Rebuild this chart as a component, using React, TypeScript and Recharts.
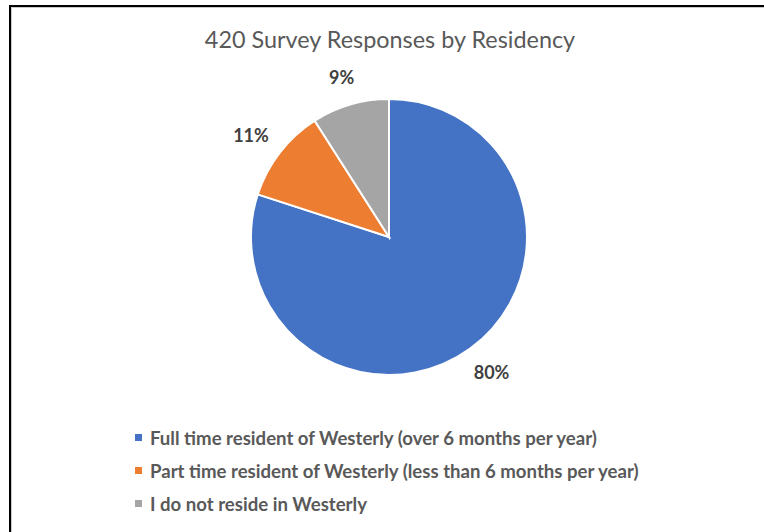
import { PieChart, Pie, Cell, Legend } from 'recharts';

const categories = [
  'Full time resident of Westerly (over 6 months per year)',
  'Part time resident of Westerly (less than 6 months per year)',
  'I do not reside in Westerly',
];
const responses = [336, 46, 38];
const COLORS = ['#4472C4', '#ED7D31', '#A5A5A5'];

const data = categories.map((name, i) => ({ name, value: responses[i] }));
const total = responses.reduce((a, b) => a + b, 0);

const FONT = 'Lato, "Open Sans", sans-serif';
const RADIAN = Math.PI / 180;

// labels sit just outside the slice, pushed out by half their box (like Excel "best fit")
const renderLabel = ({ cx, cy, midAngle, outerRadius, value }: any) => {
  const text = `${Math.round((value / total) * 100)}%`;
  const cos = Math.cos(-midAngle * RADIAN);
  const sin = Math.sin(-midAngle * RADIAN);
  const r = outerRadius + 20;
  const halfW = (text.length * 11) / 2;
  const x = cx + r * cos + cos * halfW;
  const y = cy + r * sin + sin * 9;
  return (
    <text
      x={x}
      y={y}
      fill="#404040"
      textAnchor="middle"
      dominantBaseline="central"
      style={{ fontFamily: FONT, fontWeight: 700, fontSize: 18 }}
    >
      {text}
    </text>
  );
};

const renderLegend = () => (
  <div style={{ fontFamily: FONT, fontWeight: 700, fontSize: 18.6, color: '#595959', whiteSpace: 'nowrap' }}>
    {categories.map((name, i) => (
      <div key={name} style={{ display: 'flex', alignItems: 'center', height: 33 }}>
        <span style={{ width: 7, height: 7, background: COLORS[i], marginRight: 8, display: 'inline-block' }} />
        <span>{name}</span>
      </div>
    ))}
  </div>
);

export default function App() {
  return (
    <div
      style={{
        position: 'fixed',
        left: 0,
        top: 0,
        width: 764,
        height: 532,
        background: '#fff',
        overflow: 'hidden',
      }}
    >
      {/* frame: only top and left edges are visible in the source */}
      <div style={{ position: 'absolute', left: 9, top: 5, width: 755, height: 2, background: '#000' }} />
      <div style={{ position: 'absolute', left: 9, top: 5, width: 2, height: 527, background: '#000' }} />
      <div style={{ position: 'absolute', left: 11, top: 7, width: 753, height: 1, background: '#c8c8c8' }} />
      <div style={{ position: 'absolute', left: 11, top: 7, width: 1, height: 525, background: '#c8c8c8' }} />
      <div
        style={{
          position: 'absolute',
          left: 0,
          top: 25,
          width: 780,
          textAlign: 'center',
          fontFamily: FONT,
          fontSize: 23.4,
          color: '#595959',
        }}
      >
        420 Survey Responses by Residency
      </div>
      <div style={{ position: 'absolute', left: 0, top: 0 }}>
        <PieChart width={764} height={532}>
          <Pie
            data={data}
            dataKey="value"
            nameKey="name"
            cx={384}
            cy={232}
            outerRadius={138}
            startAngle={90}
            endAngle={-270}
            stroke="#fff"
            strokeWidth={2}
            labelLine={false}
            label={renderLabel}
            isAnimationActive={false}
          >
            {data.map((entry, index) => (
              <Cell key={`cell-${index}`} fill={COLORS[index]} />
            ))}
          </Pie>
          <Legend
            content={renderLegend}
            wrapperStyle={{ left: 135, top: 421, width: 'auto', bottom: 'auto' }}
          />
        </PieChart>
      </div>
    </div>
  );
}
